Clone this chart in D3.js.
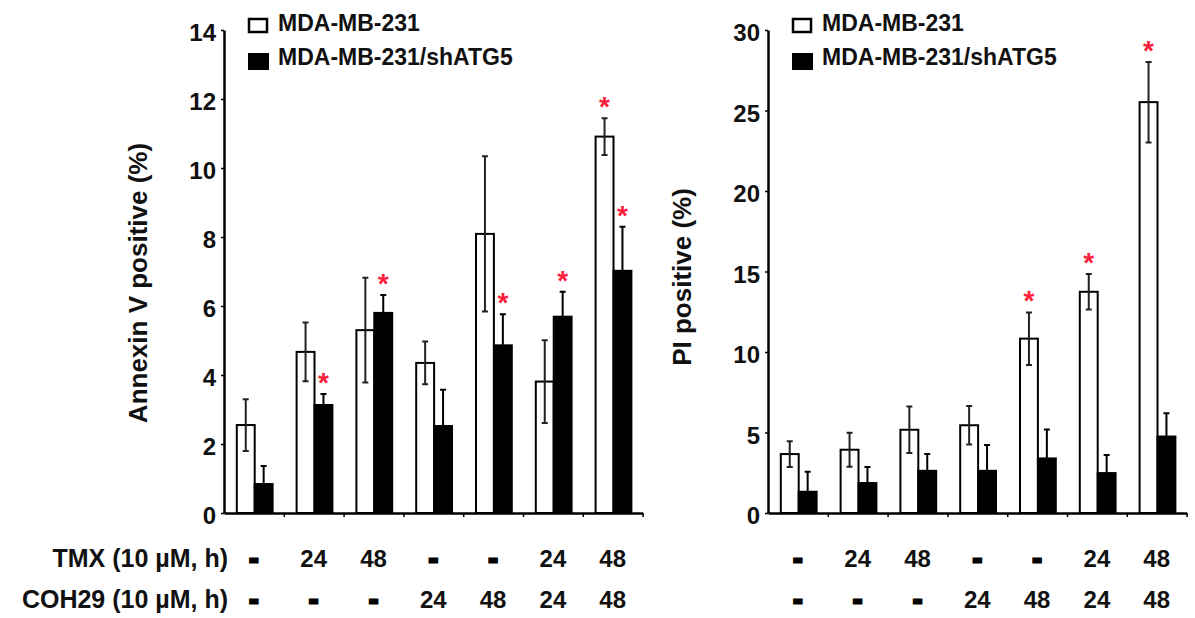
<!DOCTYPE html>
<html>
<head>
<meta charset="utf-8">
<script src="https://cdn.jsdelivr.net/npm/d3@7"></script>
<style>
body { margin: 0; background: #fff; }
svg text { font-family: "Liberation Sans", Arial, sans-serif; font-weight: bold; fill: #111; }
</style>
</head>
<body>
<svg id="fig" width="1195" height="618"></svg>
<script>
var groups = ["c1", "c2", "c3", "c4", "c5", "c6", "c7"];
var tmxLabels = ["-", "24", "48", "-", "-", "24", "48"];
var cohLabels = ["-", "-", "-", "24", "48", "24", "48"];
var seriesNames = ["MDA-MB-231", "MDA-MB-231/shATG5"];

// Annexin V positive (%)
var annexinWT = [2.55, 4.67, 5.3, 4.35, 8.09, 3.81, 10.91];
var annexinWTErr = [0.75, 0.85, 1.52, 0.62, 2.25, 1.2, 0.53];
var annexinWTStar = [false, false, false, false, false, false, true];
var annexinKD = [0.84, 3.13, 5.8, 2.52, 4.86, 5.69, 7.02];
var annexinKDErr = [0.52, 0.32, 0.52, 1.05, 0.9, 0.72, 1.28];
var annexinKDStar = [false, true, true, false, true, true, true];
var annexinTicks = [0, 2, 4, 6, 8, 10, 12, 14];

// PI positive (%)
var piWT = [3.66, 3.93, 5.17, 5.45, 10.83, 13.74, 25.52];
var piWTErr = [0.8, 1.05, 1.45, 1.2, 1.63, 1.1, 2.5];
var piWTStar = [false, false, false, false, true, true, true];
var piKD = [1.32, 1.86, 2.62, 2.62, 3.39, 2.48, 4.75];
var piKDErr = [1.24, 1.0, 1.04, 1.6, 1.8, 1.13, 1.45];
var piKDStar = [false, false, false, false, false, false, false];
var piTicks = [0, 5, 10, 15, 20, 25, 30];

var svg = d3.select("#fig");
var groupW = 59.8;
var baseY = 513, topY = 30;
var starColor = "#ff1f3d";

function drawPanel(p) {
  var g = svg.append("g");
  var x = d3.scaleBand().domain(groups).range([p.left, p.left + groupW * groups.length]);
  var xs = d3.scaleBand().domain([0, 1]).range([12.8, 48.6]);
  var y = d3.scaleLinear().domain([0, p.max]).range([baseY, topY]);

  // y axis
  var ya = g.append("g").attr("transform", "translate(" + p.left + ",0)")
    .call(d3.axisLeft(y).tickValues(p.ticks).tickSize(3).tickPadding(5).tickSizeOuter(0));
  ya.select(".domain").attr("stroke", "#000").attr("stroke-width", 2.5);
  ya.selectAll(".tick line").attr("stroke", "#000").attr("stroke-width", 1.5);
  ya.selectAll(".tick text").attr("font-size", 24).attr("dy", "0.45em")
    .attr("font-family", null).attr("fill", null);

  // x axis
  var xl = d3.scaleLinear().domain([0, groups.length]).range(x.range());
  var xa = g.append("g").attr("transform", "translate(0," + baseY + ")")
    .call(d3.axisBottom(xl).tickValues(d3.range(1, groups.length + 1)).tickSize(4).tickSizeOuter(0).tickFormat(""));
  xa.select(".domain").attr("stroke", "#000").attr("stroke-width", 2.5);
  xa.selectAll(".tick line").attr("stroke", "#000").attr("stroke-width", 1.5);

  var series = [
    {vals: p.wt, err: p.wtErr, star: p.wtStar, fill: "#fff", bar: "#222", idx: 0},
    {vals: p.kd, err: p.kdErr, star: p.kdStar, fill: "#000", bar: "#000", idx: 1}
  ];

  series.forEach(function(s) {
    var idx = d3.range(s.vals.length);
    var cx = function(i) { return x(groups[i]) + xs(s.idx) + xs.bandwidth() / 2; };

    g.append("g").selectAll("rect").data(idx).join("rect")
      .attr("x", function(i) { return x(groups[i]) + xs(s.idx); })
      .attr("y", function(i) { return y(s.vals[i]); })
      .attr("width", xs.bandwidth())
      .attr("height", function(i) { return baseY - y(s.vals[i]); })
      .attr("fill", s.fill)
      .attr("stroke", "#000")
      .attr("stroke-width", 2);

    var eb = g.append("g").attr("stroke", s.bar).attr("stroke-width", 2).attr("fill", "none");
    eb.selectAll("path").data(idx).join("path")
      .attr("d", function(i) {
        var c = cx(i), v = s.vals[i];
        var hi = y(v + s.err[i]), lo = y(Math.max(0, v - s.err[i]));
        return "M" + c + "," + lo + "V" + hi +
               "M" + (c - 3) + "," + hi + "H" + (c + 3) +
               "M" + (c - 3) + "," + lo + "H" + (c + 3);
      });

    g.append("g").selectAll("text").data(idx.filter(function(i) { return s.star[i]; })).join("text")
      .attr("x", function(i) { return cx(i); })
      .attr("y", function(i) { return y(s.vals[i] + s.err[i]) - 2; })
      .attr("text-anchor", "middle")
      .attr("font-size", 28)
      .style("fill", starColor)
      .text("*");
  });

  // legend
  var lg = g.append("g");
  lg.append("rect").attr("x", p.left + 25).attr("y", 19).attr("width", 18).attr("height", 13)
    .attr("fill", "#fff").attr("stroke", "#000").attr("stroke-width", 2.5);
  lg.append("rect").attr("x", p.left + 24).attr("y", 53).attr("width", 21).attr("height", 17)
    .attr("fill", "#000");
  lg.selectAll("text").data(seriesNames).join("text")
    .attr("x", p.left + 54)
    .attr("y", function(d, i) { return i == 0 ? 31 : 65; })
    .attr("font-size", 23)
    .text(function(d) { return d; });

  // y title
  g.append("text")
    .attr("transform", "translate(" + p.titleX + "," + p.titleY + ") rotate(-90)")
    .attr("text-anchor", "middle")
    .attr("font-size", 26)
    .text(p.title);

  // treatment rows
  [[tmxLabels, 567], [cohLabels, 608]].forEach(function(row) {
    g.append("g").selectAll("text").data(row[0]).join("text")
      .attr("x", function(d, i) { return x(groups[i]) + x.bandwidth() / 2; })
      .attr("y", row[1])
      .attr("text-anchor", "middle")
      .attr("font-size", function(d) { return d == "-" ? 26 : 24; })
      .attr("stroke", function(d) { return d == "-" ? "#000" : null; })
      .attr("stroke-width", function(d) { return d == "-" ? 3 : null; })
      .text(function(d) { return d; });
  });
  return x;
}

drawPanel({
  left: 224, max: 14, ticks: annexinTicks,
  wt: annexinWT, wtErr: annexinWTErr, wtStar: annexinWTStar,
  kd: annexinKD, kdErr: annexinKDErr, kdStar: annexinKDStar,
  title: "Annexin V positive (%)", titleX: 147, titleY: 283
});

drawPanel({
  left: 768, max: 30, ticks: piTicks,
  wt: piWT, wtErr: piWTErr, wtStar: piWTStar,
  kd: piKD, kdErr: piKDErr, kdStar: piKDStar,
  title: "PI positive (%)", titleX: 691, titleY: 277
});

// row titles, left side only
svg.append("text").attr("x", 228).attr("y", 567).attr("text-anchor", "end")
  .attr("font-size", 25).text("TMX (10 µM, h)");
svg.append("text").attr("x", 228).attr("y", 608).attr("text-anchor", "end")
  .attr("font-size", 25).text("COH29 (10 µM, h)");
</script>
</body>
</html>
